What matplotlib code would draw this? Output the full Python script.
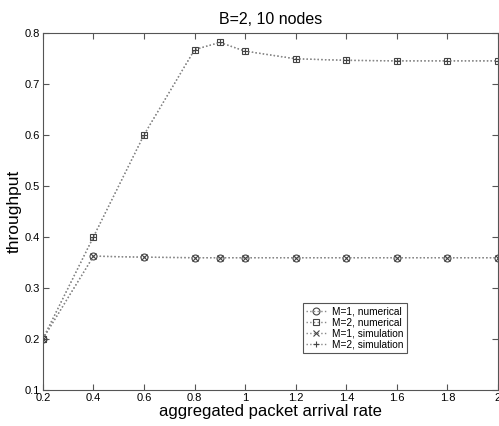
import matplotlib
matplotlib.use("Agg")
from matplotlib import pyplot as plt

plt.rcParams['font.family'] = ['Liberation Sans', 'DejaVu Sans']

rate = [0.2, 0.4, 0.6, 0.8, 0.9, 1.0, 1.2, 1.4, 1.6, 1.8, 2.0]
m1_num = [0.2, 0.362, 0.360, 0.359, 0.359, 0.359, 0.359, 0.359, 0.359, 0.359, 0.359]
m2_num = [0.2, 0.400, 0.600, 0.767, 0.781, 0.764, 0.749, 0.746, 0.745, 0.745, 0.745]
m1_sim = [0.2, 0.362, 0.360, 0.359, 0.359, 0.359, 0.359, 0.359, 0.359, 0.359, 0.359]
m2_sim = [0.2, 0.400, 0.600, 0.767, 0.781, 0.764, 0.749, 0.746, 0.745, 0.745, 0.745]

fig = plt.figure(figsize=(4.99, 4.26), dpi=100)
ax = fig.add_axes([0.086, 0.085, 0.912, 0.838])

lc = '#888888'
mc = '#444444'
ax.plot(rate, m1_num, ls=':', c=lc, lw=1, marker='o', ms=5, mfc='none', mec=mc, mew=0.8, label='M=1, numerical')
ax.plot(rate, m2_num, ls=':', c=lc, lw=1, marker='s', ms=5, mfc='none', mec=mc, mew=0.8, label='M=2, numerical')
ax.plot(rate, m1_sim, ls=':', c=lc, lw=1, marker='x', ms=4, mfc='none', mec=mc, mew=0.8, label='M=1, simulation')
ax.plot(rate, m2_sim, ls=':', c=lc, lw=1, marker='+', ms=5, mfc='none', mec=mc, mew=0.8, label='M=2, simulation')

ax.set_xlim(0.2, 2)
ax.set_ylim(0.1, 0.8)
ax.set_xticks([0.2, 0.4, 0.6, 0.8, 1, 1.2, 1.4, 1.6, 1.8, 2])
ax.set_xticklabels(['0.2', '0.4', '0.6', '0.8', '1', '1.2', '1.4', '1.6', '1.8', '2'])
ax.set_yticks([0.1, 0.2, 0.3, 0.4, 0.5, 0.6, 0.7, 0.8])
ax.tick_params(direction='in', top=True, right=True, labelsize=8, length=4, color='#555555', pad=2)
for s in ax.spines.values():
    s.set_color('#555555')
    s.set_linewidth(0.8)

ax.set_title('B=2, 10 nodes', fontsize=11.5, pad=6)
ax.set_xlabel('aggregated packet arrival rate', fontsize=12, labelpad=1)
ax.set_ylabel('throughput', fontsize=12.5, labelpad=2)

leg = ax.legend(loc='lower left', bbox_to_anchor=(0.56, 0.09), fontsize=7.3, fancybox=False,
                edgecolor='#555555', framealpha=1, handlelength=2, borderpad=0.3,
                labelspacing=0.1, handletextpad=0.6)
leg.get_frame().set_linewidth(0.8)

fig.savefig('out.png', dpi=100)
